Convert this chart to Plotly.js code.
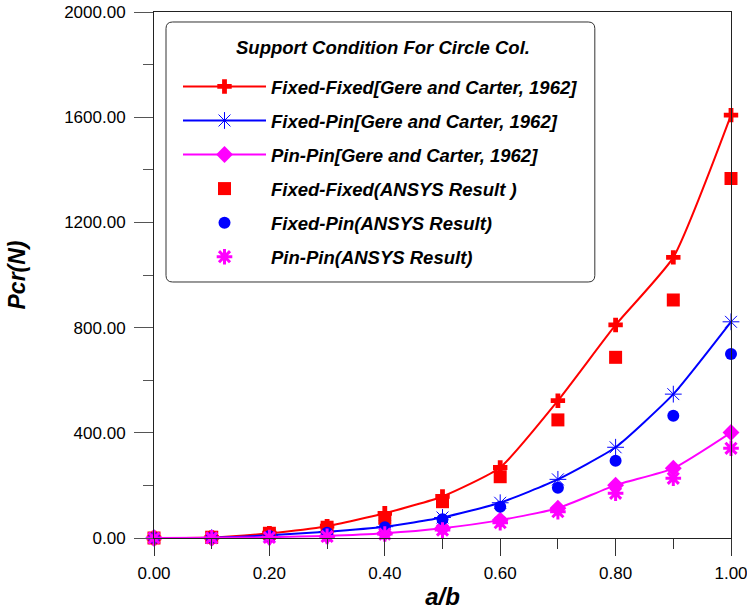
<!DOCTYPE html>
<html>
<head>
<meta charset="utf-8">
<script src="https://cdn.plot.ly/plotly-3.0.1.min.js"></script>
<style>html,body{margin:0;padding:0;background:#fff;}#chart{width:747px;height:610px;}</style>
</head>
<body>
<div id="chart"></div>
<script>
const ab = [0, 0.1, 0.2, 0.3, 0.4, 0.5, 0.6, 0.7, 0.8, 0.9, 1.0];
const ffGere  = [0, 2, 18, 45, 94, 158, 268, 522, 810, 1067, 1608];
const fpGere  = [0, 1, 10, 24, 43, 78, 134, 223, 345, 547, 822];
const ppGere  = [0, 0.5, 3, 8, 18, 37, 68, 113, 201, 265, 401];
const ffAnsys = [0, 3, 18, 41, 75, 138, 233, 449, 687, 905, 1367];
const fpAnsys = [0, 1, 8, 20, 41, 71, 119, 191, 294, 465, 700];
const ppAnsys = [0, 0.5, 2, 6, 15, 30, 58, 100, 170, 227, 341];
const names = [
  'Fixed-Fixed[Gere and Carter, 1962]',
  'Fixed-Pin[Gere and Carter, 1962]',
  'Pin-Pin[Gere and Carter, 1962]',
  'Fixed-Fixed(ANSYS Result )',
  'Fixed-Pin(ANSYS Result)',
  'Pin-Pin(ANSYS Result)'
];
const legendTitle = 'Support Condition For Circle Col.';
const xTitle = 'a/b';
const yTitle = 'Pcr(N)';

const FONT = 'Liberation Sans, Arial, sans-serif';
const RED = '#ff0000', BLUE = '#0000ff', MAG = '#ff00ff';
const SMOOTH = 0.5;

const traces = [
  {x: ab, y: ffGere, name: names[0], mode: 'lines+markers', line: {color: RED, width: 2, shape: 'spline', smoothing: SMOOTH},
   marker: {symbol: 'cross', size: 12, color: RED}},
  {x: ab, y: fpGere, name: names[1], mode: 'lines+markers', line: {color: BLUE, width: 2, shape: 'spline', smoothing: SMOOTH},
   marker: {symbol: 'asterisk-open', size: 14, color: BLUE, line: {color: BLUE, width: 1}}},
  {x: ab, y: ppGere, name: names[2], mode: 'lines+markers', line: {color: MAG, width: 2, shape: 'spline', smoothing: SMOOTH},
   marker: {symbol: 'diamond', size: 13, color: MAG}},
  {x: ab, y: ffAnsys, name: names[3], mode: 'markers',
   marker: {symbol: 'square', size: 13, color: RED}},
  {x: ab, y: fpAnsys, name: names[4], mode: 'markers',
   marker: {symbol: 'circle', size: 12, color: BLUE}},
  {x: ab, y: ppAnsys, name: names[5], mode: 'markers',
   marker: {symbol: 'asterisk-open', size: 13, color: MAG, line: {color: MAG, width: 3}}}
];
traces.forEach((t, i) => { t.type = 'scatter'; t.cliponaxis = false; t.legendgroup = 'g' + i; });

// rounded legend frame in paper coords
const x0 = 0.0208, x1 = 0.764, y0 = 0.4867, y1 = 0.981, rx = 0.0115, ry = 0.0126;
const framePath = `M${x0+rx},${y1} L${x1-rx},${y1} Q${x1},${y1} ${x1},${y1-ry} L${x1},${y0+ry} Q${x1},${y0} ${x1-rx},${y0} ` +
  `L${x0+rx},${y0} Q${x0},${y0} ${x0},${y0+ry} L${x0},${y1-ry} Q${x0},${y1} ${x0+rx},${y1} Z`;

const layout = {
  width: 747, height: 610,
  margin: {l: 154, r: 16, t: 12, b: 72, pad: 0},
  paper_bgcolor: '#fff', plot_bgcolor: '#fff',
  font: {family: FONT, color: '#000', size: 17},
  showlegend: true,
  legend: {
    x: 0.0416, y: 0.8937, xanchor: 'left', yanchor: 'top',
    bgcolor: 'rgba(0,0,0,0)', borderwidth: 0,
    font: {family: FONT, size: 18.5, color: '#000', style: 'italic', weight: 'bold'},
    tracegroupgap: 7, traceorder: 'grouped', itemwidth: 83
  },
  annotations: [{
    xref: 'paper', yref: 'paper', x: 0.397, y: 0.9316, xanchor: 'center', yanchor: 'middle',
    showarrow: false, text: legendTitle,
    font: {family: FONT, size: 18.5, color: '#000', style: 'italic', weight: 'bold'}
  }],
  shapes: [{type: 'path', xref: 'paper', yref: 'paper', path: framePath,
            line: {color: '#333', width: 1}, fillcolor: 'rgba(0,0,0,0)', layer: 'above'}],
  xaxis: {
    range: [0, 1], dtick: 0.2, tick0: 0, tickformat: '.2f',
    showgrid: false, zeroline: false,
    showline: true, linecolor: '#222', linewidth: 1, mirror: true,
    ticks: 'outside', ticklen: 17, tickcolor: '#333', tickwidth: 1, ticklabelstandoff: 3,
    ticklabeloverflow: 'allow',
    minor: {dtick: 0.1, ticks: 'outside', ticklen: 10, tickcolor: '#333', showgrid: false},
    tickfont: {family: FONT, size: 17, color: '#000'},
    title: {text: xTitle, font: {family: FONT, size: 24, style: 'italic', weight: 'bold'}, standoff: 8}
  },
  yaxis: {
    range: [0, 2000], dtick: 400, tick0: 0, tickformat: '.2f',
    showgrid: false, zeroline: false,
    showline: true, linecolor: '#222', linewidth: 1, mirror: true,
    ticks: 'outside', ticklen: 19, tickcolor: '#555', tickwidth: 1, ticklabelstandoff: 5,
    ticklabeloverflow: 'allow',
    minor: {dtick: 200, ticks: 'outside', ticklen: 10, tickcolor: '#555', showgrid: false},
    tickfont: {family: FONT, size: 17, color: '#000'},
    title: {text: yTitle, font: {family: FONT, size: 23, style: 'italic', weight: 'bold'}, standoff: 32}
  }
};

Plotly.newPlot('chart', traces, layout, {displayModeBar: false, staticPlot: true});
</script>
</body>
</html>
